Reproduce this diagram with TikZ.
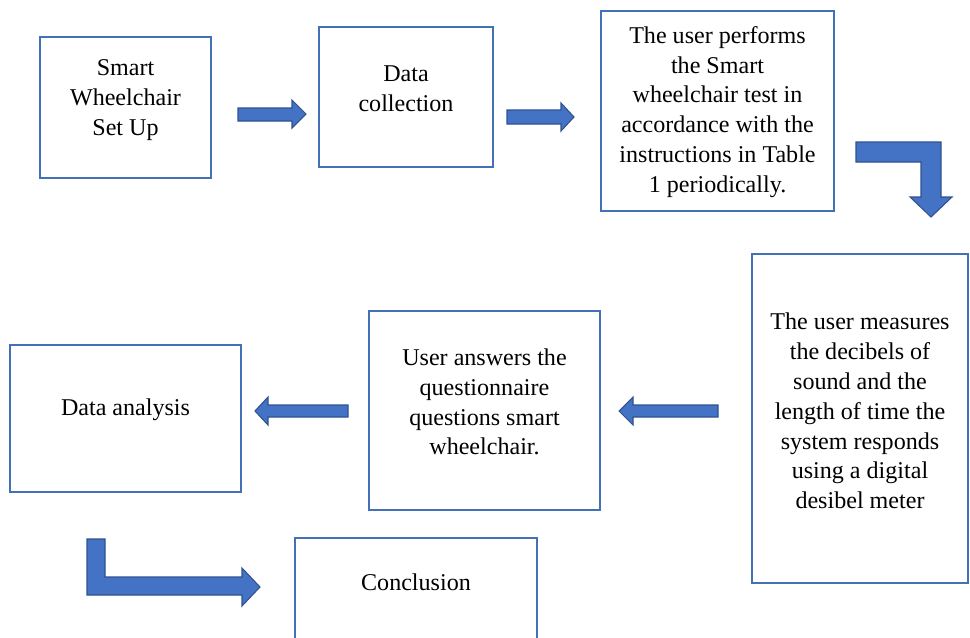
\documentclass[tikz,border=0pt]{standalone}
\usepackage{fontspec}
\setmainfont{Liberation Serif}
\usepackage{tikz}

\definecolor{boxblue}{HTML}{4470B8}
\definecolor{arrowfill}{HTML}{4472C4}
\definecolor{arrowline}{HTML}{2F528F}

\begin{document}
\begin{tikzpicture}[x=0.02cm, y=-0.02cm,
  font=\fontsize{13.7}{17}\selectfont,
  box/.style={draw=boxblue, line width=1.1pt, inner sep=0pt},
  txt/.style={align=center, inner sep=0pt},
  blockarrow/.style={fill=arrowfill, draw=arrowline, line width=0.6pt, line join=miter}]

\useasboundingbox (0,0) rectangle (970,637);

% boxes of the first row
\node[box, minimum width=3.42cm, minimum height=2.82cm] (setupbox) at (125.5,107.5) {};
\node[txt] (setup) at (125.5,100) {Smart\\Wheelchair\\Set Up};

\node[box, minimum width=3.48cm, minimum height=2.8cm] (collectbox) at (406,97) {};
\node[txt] (collect) at (406,88.5) {Data\\collection};

\node[box, minimum width=4.66cm, minimum height=4cm] (performbox) at (717.5,111) {};
\node[txt] (perform) at (717.5,112) {The user performs\\the Smart\\wheelchair test in\\accordance with the\\instructions in Table\\1 periodically.};

% boxes of the second row
\node[box, minimum width=4.32cm, minimum height=6.58cm] (measurebox) at (860,418.5) {};
\node[txt] (measure) at (860,411) {The user measures\\the decibels of\\sound and the\\length of time the\\system responds\\using a digital\\desibel meter};

\node[box, minimum width=4.62cm, minimum height=3.98cm] (answerbox) at (484.5,410.5) {};
\node[txt] (answer) at (484.5,402) {User answers the\\questionnaire\\questions smart\\wheelchair.};

\node[box, minimum width=4.62cm, minimum height=2.94cm] (analysisbox) at (125.5,418.5) {};
\node[txt] (analysis) at (125.5,410) {Data analysis};

% last box, cut by the lower edge
\node[box, minimum width=4.84cm, minimum height=2.04cm] (concludebox) at (416,589) {};
\node[txt] (conclude) at (416,582) {Conclusion};

% block arrows between the boxes
\draw[blockarrow] (238,108) -- (292,108) -- (292,100) -- (306,114) -- (292,128) -- (292,121) -- (238,121) -- cycle;
\draw[blockarrow] (507,110) -- (561,110) -- (561,103) -- (574,117) -- (561,131) -- (561,124) -- (507,124) -- cycle;
\draw[blockarrow] (856,142) -- (941,142) -- (941,197) -- (952,197) -- (931,217) -- (910,197) -- (921,197) -- (921,162) -- (856,162) -- cycle;
\draw[blockarrow] (718,405) -- (633,405) -- (633,397) -- (619,411) -- (633,425) -- (633,417) -- (718,417) -- cycle;
\draw[blockarrow] (348,405) -- (268,405) -- (268,397) -- (255,411) -- (268,425) -- (268,417) -- (348,417) -- cycle;
\draw[blockarrow] (87,539) -- (105,539) -- (105,577) -- (242,577) -- (242,568) -- (260,587) -- (242,606) -- (242,595) -- (87,595) -- cycle;

\end{tikzpicture}
\end{document}
